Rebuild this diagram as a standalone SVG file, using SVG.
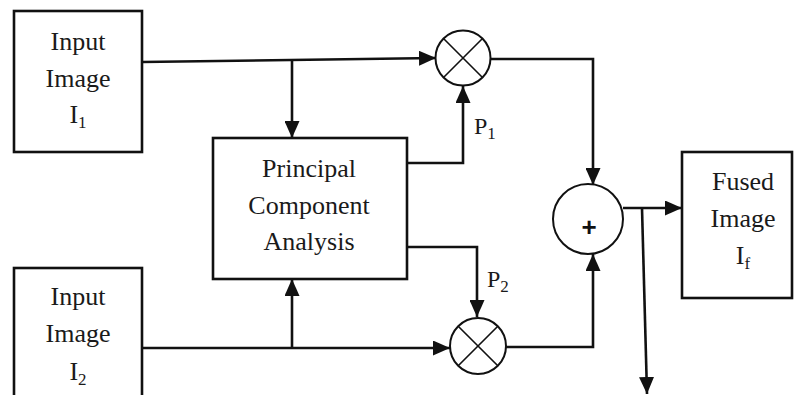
<svg xmlns="http://www.w3.org/2000/svg" width="794" height="395" viewBox="0 0 794 395">
<style>
.box{fill:#fff;stroke:#111;stroke-width:2.6}
.circ{fill:#fff;stroke:#111;stroke-width:2}
.x{stroke:#111;stroke-width:1.6;fill:none}
.ln{fill:none;stroke:#111;stroke-width:2.6}
.t{font-family:"Liberation Serif","Times New Roman",serif;font-size:26px;fill:#1a1a1a;text-anchor:middle}
.p{font-family:"Liberation Serif","Times New Roman",serif;font-size:24px;fill:#1a1a1a}
.sub{font-size:17px}
</style>
<defs>
<marker id="ah" viewBox="0 0 17 15" refX="17" refY="7.5" markerWidth="17" markerHeight="15" markerUnits="userSpaceOnUse" orient="auto">
<path d="M0,0 L17,7.5 L0,15 Z" fill="#111"/>
</marker>
</defs>
<rect width="794" height="395" fill="#fff"/>
<g id="connectors">
<path class="ln" d="M142,62 L436,58" marker-end="url(#ah)"/>
<path class="ln" d="M292,60 L292,138" marker-end="url(#ah)"/>
<path class="ln" d="M142,348 L450,348" marker-end="url(#ah)"/>
<path class="ln" d="M292,348 L292,279" marker-end="url(#ah)"/>
<path class="ln" d="M407,163 L463,163 L463,86" marker-end="url(#ah)"/>
<path class="ln" d="M407,247 L477,247 L477,317" marker-end="url(#ah)"/>
<path class="ln" d="M491,59 L593,59 L593,185" marker-end="url(#ah)"/>
<path class="ln" d="M506,347 L593,347 L593,254" marker-end="url(#ah)"/>
<path class="ln" d="M623,208 L682,208" marker-end="url(#ah)"/>
<path class="ln" d="M642,208 L647,394" marker-end="url(#ah)"/>
</g>
<g id="input1">
<rect class="box" x="14" y="11" width="128" height="141"/>
<text class="t" x="78" y="50">Input</text>
<text class="t" x="78" y="87">Image</text>
<text class="t" x="78" y="123">I<tspan class="sub" dy="5">1</tspan></text>
</g>
<g id="input2">
<rect class="box" x="14" y="268" width="128" height="140"/>
<text class="t" x="78" y="305">Input</text>
<text class="t" x="78" y="342">Image</text>
<text class="t" x="78" y="380">I<tspan class="sub" dy="5">2</tspan></text>
</g>
<g id="pca">
<rect class="box" x="213" y="138" width="194" height="141"/>
<text class="t" x="309" y="177">Principal</text>
<text class="t" x="309" y="214">Component</text>
<text class="t" x="309" y="250">Analysis</text>
</g>
<g id="mult1">
<circle class="circ" cx="463" cy="58" r="27.5"/>
<path class="x" d="M443.5,38.5 L482.5,77.5 M482.5,38.5 L443.5,77.5"/>
</g>
<g id="mult2">
<circle class="circ" cx="478" cy="346" r="28"/>
<path class="x" d="M458.2,326.2 L497.8,365.8 M497.8,326.2 L458.2,365.8"/>
</g>
<g id="sum">
<circle class="circ" cx="588" cy="219" r="35"/>
<text x="589" y="236" font-family="Liberation Sans, Arial, sans-serif" font-size="26" font-weight="bold" text-anchor="middle" fill="#111">+</text>
</g>
<g id="fused">
<rect class="box" x="682" y="152" width="110" height="146"/>
<text class="t" x="743" y="190">Fused</text>
<text class="t" x="743" y="227">Image</text>
<text class="t" x="743" y="264">I<tspan class="sub" dy="5">f</tspan></text>
</g>
<g id="labels">
<text class="p" x="474" y="134">P<tspan class="sub" dy="5">1</tspan></text>
<text class="p" x="487" y="287">P<tspan class="sub" dy="5">2</tspan></text>
</g>
</svg>
